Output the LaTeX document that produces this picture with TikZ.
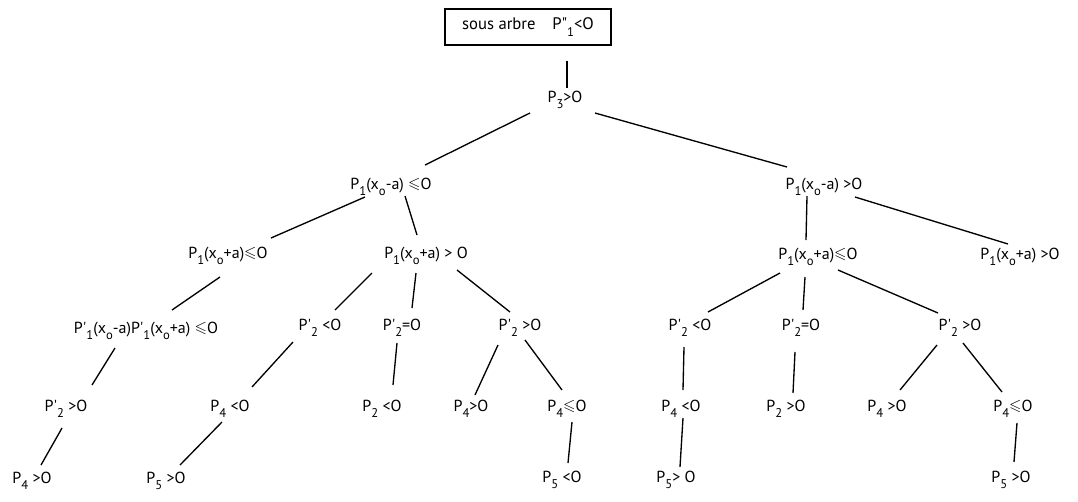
\documentclass[tikz,border=0pt]{standalone}
\usepackage{fontspec}
\usepackage{amssymb}
\setmainfont{PT Sans}[Ligatures=Common]
\newcommand{\sbs}[1]{\raisebox{-0.75ex}{\fontsize{9.5}{10}\selectfont #1}}
\newcommand{\lsl}{\raisebox{0.05ex}{$\leqslant$}}
\newcommand{\pq}{\textquotesingle}
\newcommand{\cn}[4]{\draw[edge] ([shift={(#2)}]#1) -- ([shift={(#4)}]#3);}
\begin{document}
\begin{tikzpicture}[x=0.75pt,y=-0.75pt,
  lbl/.style={anchor=base,inner sep=0pt,font=\fontsize{12}{14}\selectfont},
  edge/.style={line width=1pt},
  boxnode/.style={draw,line width=0.8pt,minimum width=124.5pt,minimum height=27pt,inner sep=2pt,font=\fontsize{12.5}{14}\selectfont}]
\useasboundingbox (0,0) rectangle (1078,501);
% nodes
\node[boxnode] (box) at (528,27) {sous arbre\quad P\textquotedbl\sbs{1}<O};
\node[lbl] (p3) at (565,102) {P\sbs{3}>O};
\node[lbl] (a) at (391,189) {P\sbs{1}(x\sbs{o}-a) \lsl O};
\node[lbl] (b) at (824,189) {P\sbs{1}(x\sbs{o}-a) >O};
\node[lbl] (aa) at (228,258) {P\sbs{1}(x\sbs{o}+a)\lsl O};
\node[lbl] (ab) at (426,258) {P\sbs{1}(x\sbs{o}+a) > O};
\node[lbl] (ba) at (818,259) {P\sbs{1}(x\sbs{o}+a)\lsl O};
\node[lbl] (bb) at (1020,259) {P\sbs{1}(x\sbs{o}+a) >O};
\node[lbl] (aaa) at (146,333) {P\pq\sbs{1}(x\sbs{o}-a)P\pq\sbs{1}(x\sbs{o}+a) \lsl O};
\node[lbl] (aba) at (320,330) {P\pq\sbs{2} <O};
\node[lbl] (abb) at (402,330) {P\pq\sbs{2}=O};
\node[lbl] (abc) at (520,330) {P\pq\sbs{2} >O};
\node[lbl] (baa) at (690,330) {P\pq\sbs{2} <O};
\node[lbl] (bab) at (801,330) {P\pq\sbs{2}=O};
\node[lbl] (bac) at (960,330) {P\pq\sbs{2} >O};
\node[lbl] (aaaa) at (66,411) {P\pq\sbs{2} >O};
\node[lbl] (abaa) at (230,411) {P\sbs{4} <O};
\node[lbl] (abba) at (382,411) {P\sbs{2} <O};
\node[lbl] (abca) at (471,411) {P\sbs{4}>O};
\node[lbl] (abcb) at (567,411) {P\sbs{4}\lsl O};
\node[lbl] (baaa) at (681,411) {P\sbs{4} <O};
\node[lbl] (baba) at (786,411) {P\sbs{2} >O};
\node[lbl] (baca) at (887,411) {P\sbs{4} >O};
\node[lbl] (bacb) at (1013,411) {P\sbs{4}\lsl O};
\node[lbl] (aaaaa) at (32,483) {P\sbs{4} >O};
\node[lbl] (abaaa) at (166,483) {P\sbs{5} >O};
\node[lbl] (abcba) at (562,482) {P\sbs{5} <O};
\node[lbl] (baaaa) at (676,482) {P\sbs{5}> O};
\node[lbl] (bacba) at (1011,482) {P\sbs{5} >O};
% connectors
\cn{box.south}{39,15}{p3.base}{2,-14}
\cn{p3.base}{-35,11}{a.base}{34,-24}
\cn{p3.base}{30,11}{b.base}{-37,-22}
\cn{a.base}{-26,8}{aa.base}{43,-20}
\cn{a.base}{14,7}{ab.base}{-9,-23}
\cn{b.base}{-17,7}{ba.base}{-12,-19}
\cn{b.base}{31,8}{bb.base}{-12,-15}
\cn{aa.base}{-8,19}{aaa.base}{26,-23}
\cn{ab.base}{-54,15}{aba.base}{15,-20}
\cn{ab.base}{-10,15}{abb.base}{10,-22}
\cn{ab.base}{31,12}{abc.base}{-10,-18}
\cn{ba.base}{-38,14}{baa.base}{18,-18}
\cn{ba.base}{-13,18}{bab.base}{2,-20}
\cn{ba.base}{20,11}{bac.base}{-22,-17}
\cn{aaa.base}{-31,15}{aaaa.base}{26,-26}
\cn{aaaa.base}{-4,17}{aaaaa.base}{9,-18}
\cn{aba.base}{-27,12}{abaa.base}{22,-24}
\cn{abaa.base}{-8,11}{abaaa.base}{14,-18}
\cn{abb.base}{-5,13}{abba.base}{11,-26}
\cn{abc.base}{-22,15}{abca.base}{4,-16}
\cn{abc.base}{5,10}{abcb.base}{-5,-21}
\cn{abcb.base}{5,11}{abcba.base}{6,-19}
\cn{baa.base}{-6,17}{baaa.base}{2,-21}
\cn{baaa.base}{2,7}{baaaa.base}{4,-15}
\cn{bab.base}{-6,22}{baba.base}{7,-18}
\cn{bac.base}{-23,15}{baca.base}{13,-21}
\cn{bac.base}{3,13}{bacb.base}{-11,-19}
\cn{bacb.base}{4,12}{bacba.base}{3,-20}
\end{tikzpicture}
\end{document}
